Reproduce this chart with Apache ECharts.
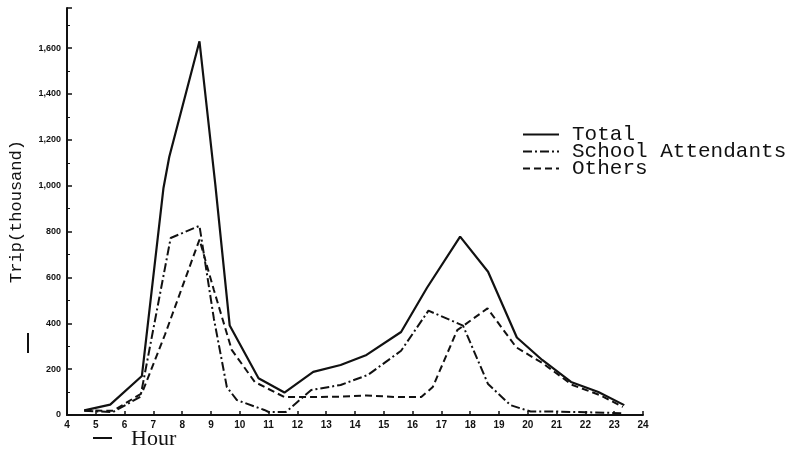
<!DOCTYPE html>
<html><head><meta charset="utf-8">
<script src="https://cdn.jsdelivr.net/npm/echarts@6/dist/echarts.min.js"></script>
<style>html,body{margin:0;padding:0;background:#fff}#c{width:792px;height:457px}</style>
</head><body><div id="c"></div>
<script>
const seriesNames = ['Total', 'School Attendants', 'Others'];
const totalHours  = [4.6,5.5,6.6,7.35,7.55,8.6,9.15,9.65,10.65,11.55,12.55,13.5,14.4,15.6,16.5,17.65,18.62,19.62,20.5,21.5,22.45,23.35];
const totalValues = [20,45,170,990,1125,1630,1005,390,160,98,188,218,262,362,555,778,625,338,240,144,100,43];
const schoolHours  = [4.6,5.6,6.55,7.6,8.6,9.1,9.55,9.9,10.85,11.0,11.6,12.48,13.5,14.45,15.6,16.55,17.75,18.62,19.4,20.1,21.0,22.0,23.3];
const schoolValues = [18,13,80,772,825,420,122,65,22,13,13,109,131,175,280,455,390,135,43,15,15,12,8];
const othersHours  = [4.6,5.6,6.6,7.4,8.6,9.1,9.72,10.52,11.55,12.5,13.5,14.4,15.5,16.3,16.7,17.55,18.6,19.6,20.5,21.55,22.5,23.3];
const othersValues = [20,18,95,350,765,545,284,144,78,78,80,85,78,78,122,370,465,295,227,131,87,35];
const xTicks = [4,5,6,7,8,9,10,11,12,13,14,15,16,17,18,19,20,21,22,23,24];
const yTicks = [0,200,400,600,800,1000,1200,1400,1600];
const yAxisTitle = 'Trip(thousand)';
const xAxisTitle = 'Hour';

const pair = (h, v) => h.map((x, i) => [x, v[i]]);
const chart = echarts.init(document.getElementById('c'), null, {renderer: 'canvas'});
const ink = '#111';
const mk = (name, data, type, w) => ({
  name, type: 'line', data, symbol: 'none', smooth: false,
  lineStyle: {color: ink, width: w, type: type},
  itemStyle: {color: ink}
});
chart.setOption({
  animation: false,
  backgroundColor: '#fff',
  grid: {left: 64, right: 149, top: 8, bottom: 42},
  legend: {
    orient: 'vertical', left: 517, top: 119, itemWidth: 36, itemHeight: 8, itemGap: -4,
    itemStyle: {color: 'transparent', borderColor: 'transparent', borderWidth: 0},
    textStyle: {fontFamily: 'Liberation Mono', fontSize: 21, color: ink, lineHeight: 16, padding: [0,0,0,8]},
    data: seriesNames
  },
  xAxis: {
    type: 'value', min: 4, max: 24, interval: 1,
    axisLine: {lineStyle: {color: ink, width: 2}},
    axisTick: {inside: true, length: 4, lineStyle: {color: ink, width: 1.5}},
    splitLine: {show: false},
    axisLabel: {color: ink, fontFamily: 'Liberation Sans', fontWeight: 'bold', fontSize: 10, margin: 5,
      formatter: v => xTicks.includes(v) ? String(v) : ''}
  },
  yAxis: {
    type: 'value', min: 0, max: 1775, interval: 200,
    name: yAxisTitle, nameLocation: 'middle', nameGap: 42,
    nameTextStyle: {fontFamily: 'Liberation Mono', fontSize: 17, color: ink, padding: [0, 0, 0, 0]},
    axisLine: {show: true, lineStyle: {color: ink, width: 2}},
    axisTick: {show: true, inside: true, length: 5, lineStyle: {color: ink, width: 1.5}},
    minorTick: {show: true, splitNumber: 2, length: 3, lineStyle: {color: ink, width: 1}},
    splitLine: {show: false},
    axisLabel: {color: ink, fontFamily: 'Liberation Sans', fontWeight: 'bold', fontSize: 9, margin: 6,
      showMaxLabel: false,
      formatter: v => yTicks.includes(v) ? v.toLocaleString('en-US') : ''}
  },
  graphic: [
    {type: 'line', shape: {x1: 28, y1: 333, x2: 28, y2: 353}, style: {stroke: ink, lineWidth: 2}},
    {type: 'line', shape: {x1: 93, y1: 438, x2: 112, y2: 438}, style: {stroke: ink, lineWidth: 2}},
    {type: 'text', left: 131, top: 428, style: {text: xAxisTitle, font: '22px "Liberation Serif"', fill: ink}}
  ],
  series: [
    mk(seriesNames[0], pair(totalHours, totalValues), 'solid', 2.2),
    mk(seriesNames[1], pair(schoolHours, schoolValues), [9, 3, 2, 3], 2),
    mk(seriesNames[2], pair(othersHours, othersValues), [7, 4], 2)
  ]
});
</script></body></html>
